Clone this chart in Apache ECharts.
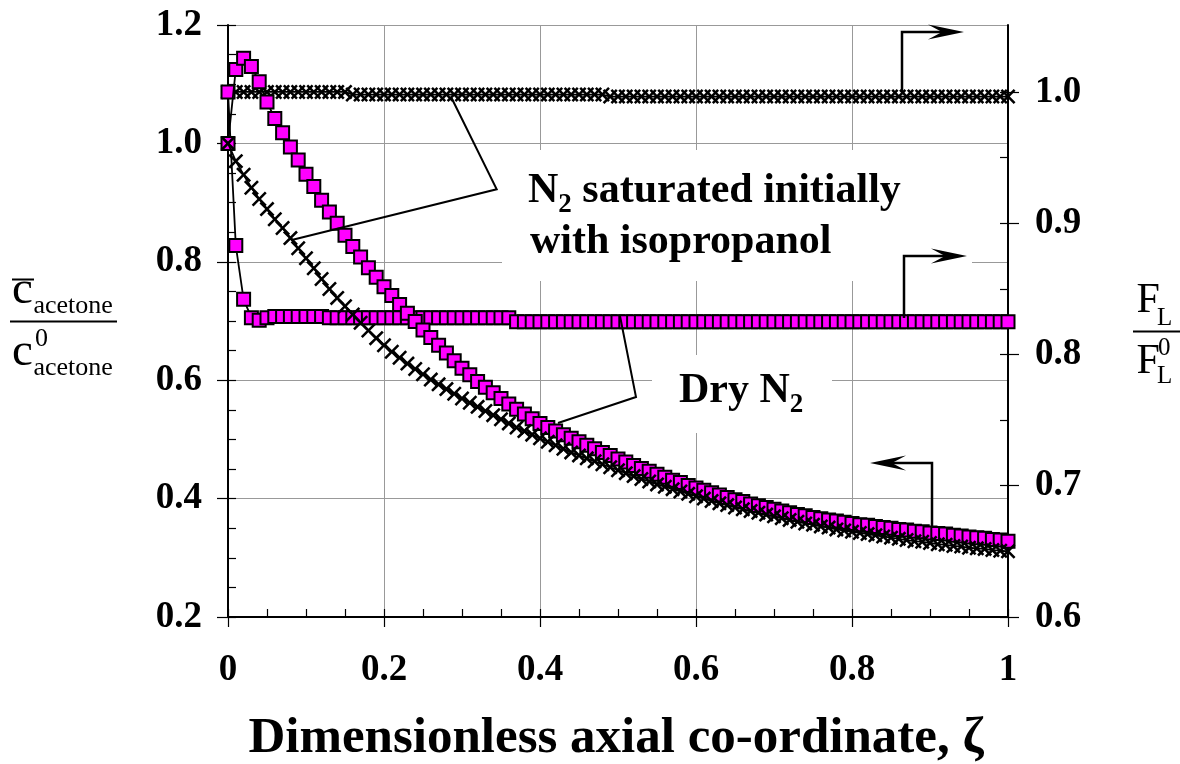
<!DOCTYPE html>
<html>
<head>
<meta charset="utf-8">
<script src="https://cdn.jsdelivr.net/npm/echarts@6/dist/echarts.min.js"></script>
<style>
html,body{margin:0;padding:0;background:#fff;}
#chart{width:1180px;height:764px;}
</style>
</head>
<body>
<div id="chart"></div>
<script>
// Dimensionless axial co-ordinate (abscissa of every series)
const zeta = [0.00,0.01,0.02,0.03,0.04,0.05,0.06,0.07,0.08,0.09,
  0.10,0.11,0.12,0.13,0.14,0.15,0.16,0.17,0.18,0.19,
  0.20,0.21,0.22,0.23,0.24,0.25,0.26,0.27,0.28,0.29,
  0.30,0.31,0.32,0.33,0.34,0.35,0.36,0.37,0.38,0.39,
  0.40,0.41,0.42,0.43,0.44,0.45,0.46,0.47,0.48,0.49,
  0.50,0.51,0.52,0.53,0.54,0.55,0.56,0.57,0.58,0.59,
  0.60,0.61,0.62,0.63,0.64,0.65,0.66,0.67,0.68,0.69,
  0.70,0.71,0.72,0.73,0.74,0.75,0.76,0.77,0.78,0.79,
  0.80,0.81,0.82,0.83,0.84,0.85,0.86,0.87,0.88,0.89,
  0.90,0.91,0.92,0.93,0.94,0.95,0.96,0.97,0.98,0.99,1.00];

// Acetone concentration ratio, dry N2 feed (left axis, squares)
const concDry = [1.000,1.125,1.144,1.130,1.104,1.070,1.042,1.018,0.994,0.972,
  0.948,0.927,0.904,0.884,0.865,0.845,0.826,0.808,0.790,0.774,
  0.758,0.743,0.728,0.713,0.699,0.685,0.672,0.659,0.646,0.633,
  0.620,0.609,0.598,0.588,0.579,0.569,0.560,0.551,0.543,0.535,
  0.527,0.520,0.514,0.508,0.502,0.496,0.490,0.484,0.478,0.473,
  0.467,0.462,0.456,0.451,0.446,0.441,0.436,0.431,0.427,0.422,
  0.418,0.414,0.410,0.406,0.402,0.398,0.395,0.391,0.388,0.385,
  0.382,0.379,0.376,0.373,0.371,0.368,0.366,0.364,0.362,0.360,
  0.358,0.356,0.355,0.353,0.351,0.350,0.348,0.347,0.345,0.344,
  0.342,0.341,0.340,0.338,0.337,0.335,0.334,0.333,0.331,0.330,0.328];

// Acetone concentration ratio, N2 saturated with isopropanol (left axis, crosses)
const concIso = [1.000,0.970,0.947,0.925,0.906,0.889,0.872,0.857,0.840,0.823,
  0.806,0.789,0.771,0.754,0.739,0.725,0.711,0.697,0.684,0.671,
  0.659,0.648,0.638,0.628,0.619,0.610,0.601,0.593,0.585,0.577,
  0.569,0.562,0.555,0.548,0.541,0.534,0.527,0.520,0.514,0.508,
  0.502,0.496,0.490,0.484,0.478,0.473,0.468,0.463,0.458,0.453,
  0.448,0.443,0.438,0.433,0.429,0.424,0.420,0.416,0.412,0.408,
  0.404,0.400,0.396,0.392,0.389,0.385,0.382,0.379,0.376,0.373,
  0.370,0.367,0.364,0.361,0.358,0.356,0.353,0.351,0.348,0.346,
  0.344,0.342,0.340,0.338,0.336,0.334,0.332,0.330,0.328,0.327,
  0.325,0.323,0.322,0.320,0.319,0.317,0.316,0.315,0.313,0.312,0.311];

// Liquid flow ratio, dry N2 feed (right axis, squares)
const flowDry = [1.000,0.883,0.842,0.828,0.826,0.828,0.829,0.829,0.829,0.829,
  0.829,0.829,0.829,0.828,0.828,0.828,0.828,0.828,0.828,0.828,
  0.828,0.828,0.828,0.828,0.828,0.828,0.828,0.828,0.828,0.828,
  0.828,0.828,0.828,0.828,0.828,0.828,0.828,0.825,0.825,0.825,
  0.825,0.825,0.825,0.825,0.825,0.825,0.825,0.825,0.825,0.825,
  0.825,0.825,0.825,0.825,0.825,0.825,0.825,0.825,0.825,0.825,
  0.825,0.825,0.825,0.825,0.825,0.825,0.825,0.825,0.825,0.825,
  0.825,0.825,0.825,0.825,0.825,0.825,0.825,0.825,0.825,0.825,
  0.825,0.825,0.825,0.825,0.825,0.825,0.825,0.825,0.825,0.825,
  0.825,0.825,0.825,0.825,0.825,0.825,0.825,0.825,0.825,0.825,0.825];

// Liquid flow ratio, N2 saturated with isopropanol (right axis, crosses)
const flowIso = [1.000,1.000,1.000,1.000,1.000,1.000,1.000,1.000,1.000,1.000,
  1.000,1.000,1.000,1.000,1.000,1.000,0.998,0.998,0.998,0.998,
  0.998,0.998,0.998,0.998,0.998,0.998,0.998,0.998,0.998,0.998,
  0.998,0.998,0.998,0.998,0.998,0.998,0.998,0.998,0.998,0.998,
  0.998,0.998,0.998,0.998,0.998,0.998,0.998,0.998,0.998,0.9965,
  0.9965,0.9965,0.9965,0.9965,0.9965,0.9965,0.9965,0.9965,0.9965,0.9965,
  0.9965,0.9965,0.9965,0.9965,0.9965,0.9965,0.9965,0.9965,0.9965,0.9965,
  0.9965,0.9965,0.9965,0.9965,0.9965,0.9965,0.9965,0.9965,0.9965,0.9965,
  0.9965,0.9965,0.9965,0.9965,0.9965,0.9965,0.9965,0.9965,0.9965,0.9965,
  0.9965,0.9965,0.9965,0.9965,0.9965,0.9965,0.9965,0.9965,0.9965,0.9965,0.9965];

// Tick labels
const xTickLabels = ['0','0.2','0.4','0.6','0.8','1'];
const leftTickLabels = ['0.2','0.4','0.6','0.8','1.0','1.2'];
const rightTickLabels = ['0.6','0.7','0.8','0.9','1.0'];

const FONT = 'Liberation Serif';
const chart = echarts.init(document.getElementById('chart'), null, {renderer: 'canvas'});

// minor tick positions
const xMinor = [], yMinor = [], rMinor = [];
for (let i = 0; i <= 20; i++) xMinor.push(+(i * 0.05).toFixed(2));
for (let i = 0; i <= 20; i++) yMinor.push(+(0.2 + i * 0.05).toFixed(2));
for (let i = 0; i <= 8; i++) rMinor.push(+(0.6 + i * 0.05).toFixed(2));
const rMajor = [0.6, 0.7, 0.8, 0.9, 1.0];

const RMAX = 1.051;

const tickLabelStyle = {
  color: '#000', fontFamily: FONT, fontWeight: 'bold', fontSize: 37
};

const crossSymbol = 'path://M0,1.2 L1.2,0 L5,3.8 L8.8,0 L10,1.2 L6.2,5 L10,8.8 L8.8,10 L5,6.2 L1.2,10 L0,8.8 L3.8,5 Z';

const pts = arr => zeta.map((z, i) => [z, arr[i]]);

function crossSeries(data, yIdx, z) {
  return {
    type: 'line', xAxisIndex: 0, yAxisIndex: yIdx, data: pts(data), z: z,
    symbol: crossSymbol, symbolSize: 15, showAllSymbol: true,
    itemStyle: {color: '#000'},
    lineStyle: {color: '#000', width: 1.8},
    emphasis: {disabled: true}, animation: false
  };
}
function squareSeries(data, yIdx, z) {
  return {
    type: 'line', xAxisIndex: 0, yAxisIndex: yIdx, data: pts(data), z: z,
    symbol: 'rect', symbolSize: 13, showAllSymbol: true,
    itemStyle: {color: '#FF00FF', borderColor: '#000', borderWidth: 2, opacity: 1},
    lineStyle: {color: '#000', width: 1.8},
    emphasis: {disabled: true}, animation: false
  };
}

// text measuring for hand-placed annotation pieces
const mctx = document.createElement('canvas').getContext('2d');
function tw(s, size, weight) {
  mctx.font = (weight || 'normal') + ' ' + size + 'px "' + FONT + '"';
  return mctx.measureText(s).width;
}
function txt(x, baseline, s, size, weight, align) {
  return {
    type: 'text', x: x, y: baseline - 0.34 * size, z: 20, silent: true,
    style: {
      text: s, fill: '#000',
      font: (weight || 'normal') + ' ' + size + 'px "' + FONT + '"',
      textAlign: align || 'left', textVerticalAlign: 'middle'
    }
  };
}
function seg(points, w) {
  return {type: 'polyline', z: 20, silent: true, shape: {points: points},
    style: {stroke: '#000', lineWidth: w || 2, fill: null}};
}
function head(tip, dir) {
  // narrow filled arrowhead, dir = +1 right, -1 left
  const [x, y] = tip;
  return {type: 'polygon', z: 20, silent: true,
    shape: {points: [[x, y], [x - dir * 36, y - 7.5], [x - dir * 22, y], [x - dir * 36, y + 7.5]]},
    style: {fill: '#000'}};
}
function box(x1, y1, x2, y2) {
  return {type: 'rect', z: 1, silent: true, shape: {x: x1, y: y1, width: x2 - x1, height: y2 - y1},
    style: {fill: '#fff'}};
}

const graphics = [];
graphics.push(box(502, 150, 972, 281));
graphics.push(box(652, 355, 832, 433));

// "N2 saturated initially / with isopropanol"
{
  const s = 42, sub = 27;
  let x = 528;
  graphics.push(txt(x, 205, 'N', s, 'bold'));
  x += tw('N', s, 'bold');
  graphics.push(txt(x, 214, '2', sub, 'bold'));
  x += tw('2', sub, 'bold');
  graphics.push(txt(x, 205, ' saturated initially', s, 'bold'));
  graphics.push(txt(530, 256, 'with isopropanol', s, 'bold'));
}
// "Dry N2"
{
  const s = 42, sub = 27;
  let x = 679;
  graphics.push(txt(x, 405, 'Dry N', s, 'bold'));
  x += tw('Dry N', s, 'bold');
  graphics.push(txt(x, 414, '2', sub, 'bold'));
}

// callout leaders
graphics.push(seg([[451.7, 98.3], [496.7, 189.3], [291.7, 240]], 2));
graphics.push(seg([[620, 316], [636, 397], [558, 423]], 2));

// axis-indicating arrows
graphics.push(seg([[902, 92], [902, 32], [945, 32]], 2.5));
graphics.push(head([964, 32], 1));
graphics.push(seg([[904, 318], [904, 256], [948, 256]], 2.5));
graphics.push(head([967, 256], 1));
graphics.push(seg([[932, 527], [932, 463], [888, 463]], 2.5));
graphics.push(head([870, 463], -1));

// left axis title: c-bar_acetone / c^0_acetone
{
  const big = 47, small = 26;
  graphics.push(txt(12, 306.5, 'c', big));
  graphics.push(seg([[12, 279.5], [34, 279.5]], 2));
  graphics.push(txt(33.5, 315, 'acetone', small));
  graphics.push(seg([[10, 321.5], [117, 321.5]], 2));
  graphics.push(txt(12, 368.5, 'c', big));
  graphics.push(txt(35, 348, '0', small));
  graphics.push(txt(33.5, 377, 'acetone', small));
}
// right axis title: F_L / F_L^0
{
  const big = 42, small = 25;
  graphics.push(txt(1136.5, 315, 'F', big));
  graphics.push(txt(1157, 326.5, 'L', small));
  graphics.push(seg([[1133, 331.5], [1180, 331.5]], 2));
  graphics.push(txt(1136.5, 376.5, 'F', big));
  graphics.push(txt(1158, 356.5, '0', small));
  graphics.push(txt(1157, 385, 'L', small));
}
// x-axis title
graphics.push(txt(616, 756, 'Dimensionless axial co-ordinate, \u03B6', 51, 'bold', 'center'));

const option = {
  backgroundColor: '#fff',
  animation: false,
  grid: {left: 228, right: 172, top: 25, bottom: 147, containLabel: false, outerBoundsMode: 'none'},
  xAxis: [
    {
      type: 'value', min: 0, max: 1, interval: 0.2, position: 'bottom',
      axisLine: {show: true, onZero: false, lineStyle: {color: '#000', width: 2}},
      axisTick: {show: true, inside: false, length: 10, lineStyle: {color: '#000', width: 1.2}},
      axisLabel: Object.assign({margin: 35, formatter: v => xTickLabels[Math.round(v / 0.2)]}, tickLabelStyle),
      splitLine: {show: true, lineStyle: {color: '#999', width: 1}}
    },
    {
      type: 'value', min: 0, max: 1, interval: 0.2, position: 'bottom',
      axisLine: {show: false, onZero: false},
      axisTick: {show: true, inside: true, length: 8, customValues: xMinor, lineStyle: {color: '#000', width: 1.2}},
      axisLabel: {show: false},
      splitLine: {show: false}
    }
  ],
  yAxis: [
    {
      type: 'value', min: 0.2, max: 1.2, interval: 0.2, position: 'left',
      axisLine: {show: true, onZero: false, lineStyle: {color: '#000', width: 2}},
      axisTick: {show: true, inside: false, length: 11, lineStyle: {color: '#000', width: 1.2}},
      axisLabel: Object.assign({margin: 26, formatter: v => leftTickLabels[Math.round((v - 0.2) / 0.2)]}, tickLabelStyle),
      splitLine: {show: true, lineStyle: {color: '#999', width: 1}}
    },
    {
      type: 'value', min: 0.2, max: 1.2, interval: 0.2, position: 'left',
      axisLine: {show: false, onZero: false},
      axisTick: {show: true, inside: true, length: 8, customValues: yMinor, lineStyle: {color: '#000', width: 1.2}},
      axisLabel: {show: false},
      splitLine: {show: false}
    },
    {
      type: 'value', min: 0.6, max: RMAX, position: 'right',
      axisLine: {show: true, onZero: false, lineStyle: {color: '#000', width: 2}},
      axisTick: {show: true, inside: false, length: 11, customValues: rMajor, lineStyle: {color: '#000', width: 1.2}},
      axisLabel: Object.assign({margin: 27, customValues: rMajor,
        formatter: v => rightTickLabels[Math.round((v - 0.6) / 0.1)]}, tickLabelStyle),
      splitLine: {show: false}
    },
    {
      type: 'value', min: 0.6, max: RMAX, position: 'right',
      axisLine: {show: false, onZero: false},
      axisTick: {show: true, inside: true, length: 8, customValues: rMinor, lineStyle: {color: '#000', width: 1.2}},
      axisLabel: {show: false},
      splitLine: {show: false}
    }
  ],
  series: [
    crossSeries(flowIso, 2, 2),
    squareSeries(flowDry, 2, 3),
    squareSeries(concDry, 0, 4),
    crossSeries(concIso, 0, 5)
  ],
  graphic: {elements: graphics}
};

chart.setOption(option);
</script>
</body>
</html>
